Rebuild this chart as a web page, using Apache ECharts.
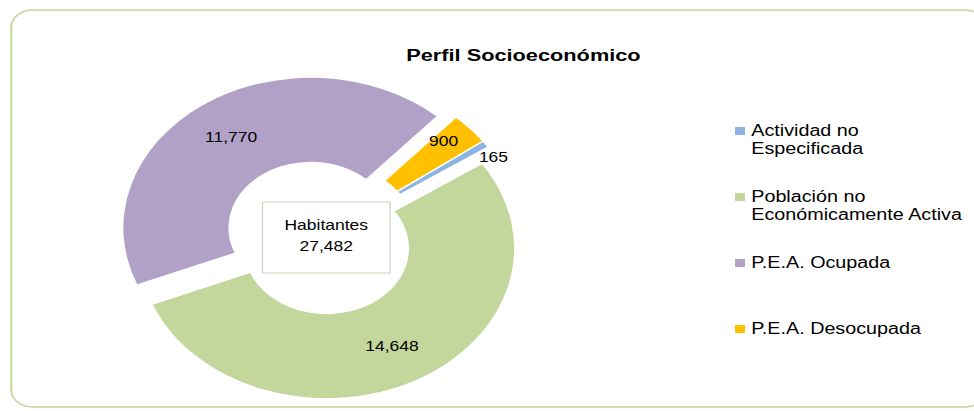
<!DOCTYPE html>
<html>
<head>
<meta charset="utf-8">
<title>Perfil Socioeconómico</title>
<script src="https://cdn.jsdelivr.net/npm/echarts@6/dist/echarts.min.js"></script>
<style>
  html, body { margin: 0; padding: 0; background: #fff; overflow: hidden; }
  /* the original picture is stretched sideways, so draw narrow and widen it */
  #chart { width: 779px; height: 411px; transform: scaleX(1.25); transform-origin: 0 0; }
</style>
</head>
<body>
<div id="chart"></div>
<script>
var categories = ['Actividad no Especificada', 'Población no Económicamente Activa', 'P.E.A. Ocupada', 'P.E.A. Desocupada'];
var values = [165, 14648, 11770, 900];
var colors = ['#8db3e2', '#c3d69b', '#b2a1c7', '#ffc000'];
var legendLines = ['Actividad no\nEspecificada', 'Población no\nEconómicamente Activa', 'P.E.A. Ocupada', 'P.E.A. Desocupada'];
var totalText = ['Habitantes', '27,482'];

var font = '"Liberation Sans", Arial, sans-serif';

var myChart = echarts.init(document.getElementById('chart'), null, { renderer: 'svg' });

var pieData = categories.map(function (name, i) {
    var item = {
        name: name,
        value: values[i],
        selected: true,
        itemStyle: { color: colors[i] }
    };
    if (i === 0) {
        item.label = { position: 'outside' };
        item.labelLine = { show: false, length: 0, length2: 0 };
    }
    return item;
});

var option = {
    animation: false,
    title: {
        text: 'Perfil Socioeconómico',
        left: 325,
        top: 46,
        padding: 0,
        textStyle: { fontFamily: font, fontSize: 17.4, fontWeight: 'bold', color: '#000' }
    },
    legend: {
        orient: 'vertical',
        left: 588,
        top: 104,
        padding: 0,
        itemWidth: 8,
        itemHeight: 8,
        itemGap: 12,
        icon: 'rect',
        selectedMode: false,
        data: categories,
        formatter: function (name) {
            // pad to three lines so the marker sits on the first text line
            var t = legendLines[categories.indexOf(name)];
            return t.indexOf('\n') > -1 ? ' \n' + t : ' \n' + t + '\n ';
        },
        textStyle: { fontFamily: font, fontSize: 15.8, lineHeight: 18, color: '#000' }
    },
    graphic: [
        {
            type: 'rect',
            silent: true,
            shape: { x: 9, y: 10, width: 780, height: 397, r: 17 },
            style: { fill: 'none', stroke: '#c4d79b', lineWidth: 1.5 }
        },
        {
            type: 'rect',
            silent: true,
            z: 10,
            shape: { x: 210, y: 202, width: 102, height: 71 },
            style: { fill: '#fff', stroke: '#cfd2bf', lineWidth: 1 }
        },
        {
            type: 'text',
            silent: true,
            z: 11,
            x: 261,
            y: 236,
            style: {
                text: totalText.join('\n'),
                fontFamily: font,
                fontSize: 14,
                lineHeight: 21,
                fill: '#000',
                align: 'center',
                verticalAlign: 'middle'
            }
        }
    ],
    series: [{
        type: 'pie',
        center: [255.6, 237.6],
        radius: [66, 150],
        startAngle: 36.2,
        clockwise: true,
        selectedMode: 'multiple',
        selectedOffset: 12,
        avoidLabelOverlap: false,
        silent: true,
        select: { itemStyle: { borderWidth: 0 } },
        itemStyle: { borderWidth: 0 },
        label: {
            show: true,
            position: 'inside',
            fontFamily: font,
            fontSize: 14,
            color: '#000',
            formatter: function (p) {
                return p.value.toLocaleString('en-US');
            }
        },
        labelLayout: function (p) {
            if (p.dataIndex === 0) return { dx: -10, dy: 13 };
            if (p.dataIndex === 3) return { dx: 8, dy: -14 };
            return {};
        },
        data: pieData
    }]
};

myChart.setOption(option);
</script>
</body>
</html>
